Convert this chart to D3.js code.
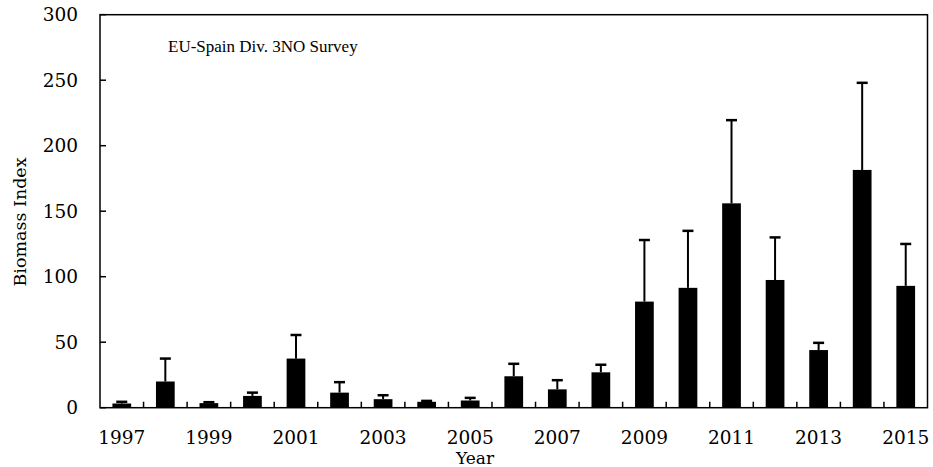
<!DOCTYPE html>
<html><head><meta charset="utf-8">
<script src="https://cdn.jsdelivr.net/npm/d3@7"></script>
<style>body{margin:0;background:#fff}svg{display:block}</style>
</head><body>
<svg id="c" width="933" height="467"></svg>
<script>
const years = ["1997","1998","1999","2000","2001","2002","2003","2004","2005","2006","2007","2008","2009","2010","2011","2012","2013","2014","2015"];
const biomass = [3.2, 20, 3.5, 9, 37.5, 11.5, 6.5, 4.5, 5.5, 24, 14, 27, 81, 91.5, 156, 97.5, 44, 181.5, 93];
const upperError = [4.5, 37.5, 4.2, 11.5, 55.5, 19.5, 9.5, 5.2, 7.5, 33.5, 21, 32.8, 128, 135, 219.5, 130, 49.5, 248, 125];
const yTicks = [0, 50, 100, 150, 200, 250, 300];
const xLabelYears = ["1997","1999","2001","2003","2005","2007","2009","2011","2013","2015"];
const title = "EU-Spain Div. 3NO Survey";
const yTitle = "Biomass Index";
const xTitle = "Year";

const svg = d3.select("#c");
const L = 100, R = 927.5, T = 14.7, B = 407.7;
const font = "'DejaVu Serif', serif";
const font2 = "'Liberation Serif', serif";

const x = d3.scaleBand().domain(years).range([L, R]).paddingInner(0).paddingOuter(0);
const y = d3.scaleLinear().domain([0, 300]).range([B, T]);
const bw = x.bandwidth() * 0.43;

// frame
svg.append("rect").attr("x", L).attr("y", T).attr("width", R - L).attr("height", B - T)
  .attr("fill", "none").attr("stroke", "#000").attr("stroke-width", 1.5);

// y axis ticks (inside)
svg.append("g").selectAll("line").data(yTicks).join("line")
  .attr("x1", L).attr("x2", L + 6).attr("y1", d => y(d)).attr("y2", d => y(d))
  .attr("stroke", "#000").attr("stroke-width", 1.5);
svg.append("g").selectAll("text").data(yTicks).join("text")
  .attr("x", L - 22).attr("y", d => y(d)).attr("dy", "0.36em")
  .attr("text-anchor", "end").attr("font-family", font).attr("font-size", 18.5).text(d => d);

// x ticks at band boundaries (inside)
const bounds = years.slice(1);
svg.append("g").selectAll("line").data(bounds).join("line")
  .attr("x1", d => x(d)).attr("x2", d => x(d)).attr("y1", B).attr("y2", B - 6)
  .attr("stroke", "#000").attr("stroke-width", 1.5);
svg.append("g").selectAll("text").data(xLabelYears).join("text")
  .attr("x", d => x(d) + x.bandwidth() / 2).attr("y", 444)
  .attr("text-anchor", "middle").attr("font-family", font).attr("font-size", 18.5).text(d => d);

// error bars
const eg = svg.append("g");
years.forEach((yr, i) => {
  const cx = x(yr) + x.bandwidth() / 2;
  eg.append("line").attr("x1", cx).attr("x2", cx).attr("y1", y(biomass[i])).attr("y2", y(upperError[i]))
    .attr("stroke", "#000").attr("stroke-width", 2);
  eg.append("line").attr("x1", cx - 5.5).attr("x2", cx + 5.5).attr("y1", y(upperError[i])).attr("y2", y(upperError[i]))
    .attr("stroke", "#000").attr("stroke-width", 2.5);
});

// bars
svg.append("g").selectAll("rect").data(years).join("rect")
  .attr("x", d => x(d) + (x.bandwidth() - bw) / 2).attr("width", bw)
  .attr("y", (d, i) => y(biomass[i])).attr("height", (d, i) => B - y(biomass[i]))
  .attr("fill", "#000");

// titles
svg.append("text").attr("x", 168).attr("y", 52).attr("font-family", font2).attr("font-size", 17).text(title);
svg.append("text").attr("transform", "translate(26,222) rotate(-90)").attr("text-anchor", "middle")
  .attr("font-family", font).attr("font-size", 17.5).text(yTitle);
svg.append("text").attr("x", 475).attr("y", 464).attr("text-anchor", "middle")
  .attr("font-family", font).attr("font-size", 17).text(xTitle);
</script>
</body></html>
